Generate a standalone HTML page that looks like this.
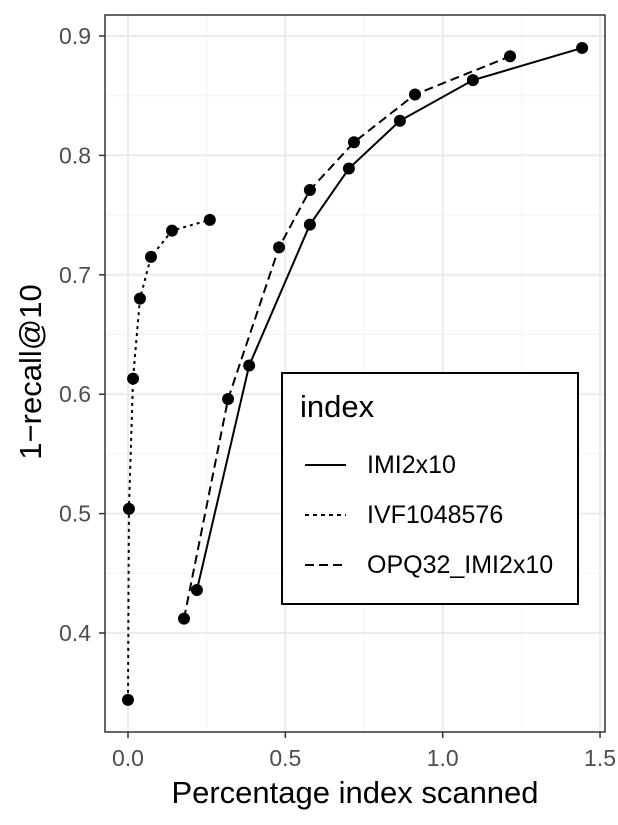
<!DOCTYPE html>
<html><head><meta charset="utf-8"><style>
html,body{margin:0;padding:0;background:#fff;}
svg{display:block;font-family:"Liberation Sans",sans-serif;}
</style></head><body>
<svg id="chart" width="618" height="825"></svg>
<script>
const imiX=[0.219,0.385,0.578,0.702,0.864,1.096,1.443];
const imiY=[0.436,0.624,0.742,0.789,0.829,0.863,0.890];
const ivfX=[0.0,0.003,0.016,0.038,0.073,0.14,0.26];
const ivfY=[0.344,0.504,0.613,0.68,0.715,0.737,0.746];
const opqX=[0.178,0.318,0.48,0.578,0.718,0.912,1.214];
const opqY=[0.412,0.596,0.723,0.771,0.811,0.851,0.883];
const xTicks=[0,0.5,1.0,1.5];
const xTickLabels=["0.0","0.5","1.0","1.5"];
const yTicks=[0.4,0.5,0.6,0.7,0.8,0.9];
const yTickLabels=["0.4","0.5","0.6","0.7","0.8","0.9"];

const NS="http://www.w3.org/2000/svg";
const svg=document.getElementById('chart');
const L=105,R=605,T=15,B=732;
const sx=v=>128+v*314.7;
const sy=v=>36+(0.9-v)*1194;
function mk(tag,attrs,parent){const e=document.createElementNS(NS,tag);for(const k in attrs)e.setAttribute(k,attrs[k]);(parent||svg).appendChild(e);return e;}

for(let i=0;i<xTicks.length-1;i++){const g=mk('line',{x1:sx((xTicks[i]+xTicks[i+1])/2),x2:sx((xTicks[i]+xTicks[i+1])/2),y1:T,y2:B,stroke:'#f2f2f2','stroke-width':1});

}
for(let i=0;i<yTicks.length-1;i++){const g=mk('line',{x1:L,x2:R,y1:sy((yTicks[i]+yTicks[i+1])/2),y2:sy((yTicks[i]+yTicks[i+1])/2),stroke:'#f2f2f2','stroke-width':1});

}
xTicks.forEach((v,i)=>{
 const g=mk('line',{x1:sx(v),x2:sx(v),y1:T,y2:B,stroke:'#ebebeb','stroke-width':2});
 
 
 mk('line',{x1:sx(v),x2:sx(v),y1:B,y2:B+6,stroke:'#333','stroke-width':1.5});
 const t=mk('text',{x:sx(v),y:B+34,'text-anchor':'middle','font-size':23,fill:'#4d4d4d'});t.textContent=xTickLabels[i];
 
 
});
yTicks.forEach((v,i)=>{
 const g=mk('line',{x1:L,x2:R,y1:sy(v),y2:sy(v),stroke:'#ebebeb','stroke-width':2});
 
 
 mk('line',{x1:L-6,x2:L,y1:sy(v),y2:sy(v),stroke:'#333','stroke-width':1.5});
 const t=mk('text',{x:L-14,y:sy(v)+8,'text-anchor':'end','font-size':23,fill:'#4d4d4d'});t.textContent=yTickLabels[i];
 
 
});
function series(xs,ys,dash,name){
 const p=mk('polyline',{points:xs.map((x,i)=>sx(x)+','+sy(ys[i])).join(' '),fill:'none',stroke:'#000','stroke-width':2,'stroke-dasharray':dash});
 
 
 xs.forEach((x,i)=>{const c=mk('circle',{cx:sx(x),cy:sy(ys[i]),r:6,fill:'#000'});
 
 });
}
series(imiX,imiY,'none','imi2x10');
series(ivfX,ivfY,'3,4','ivf1048576');
series(opqX,opqY,'9,5','opq32-imi2x10');
const border=mk('rect',{x:L,y:T,width:R-L,height:B-T,fill:'none',stroke:'#333','stroke-width':1.5});


const xt=mk('text',{x:355,y:803,'text-anchor':'middle','font-size':31,fill:'#000'});xt.textContent='Percentage index scanned';


const yt=mk('text',{x:0,y:0,'text-anchor':'middle','font-size':31,fill:'#000',transform:'translate(41,372) rotate(-90)'});yt.textContent='1\u2212recall@10';


const lg=mk('g',{});


mk('rect',{x:282,y:373,width:296,height:231,fill:'#fff',stroke:'#000','stroke-width':2},lg);
const lt=mk('text',{x:300,y:417,'font-size':31,fill:'#000'},lg);lt.textContent='index';


const names=['IMI2x10','IVF1048576','OPQ32_IMI2x10'];
const dashes=['none','4,4','9,5'];
names.forEach((n,i)=>{const y=465+i*50;
 const e=mk('g',{},lg);
 
 
 mk('line',{x1:305,x2:346,y1:y,y2:y,stroke:'#000','stroke-width':2,'stroke-dasharray':dashes[i]},e);
 const t=mk('text',{x:367,y:y+8,'font-size':25,fill:'#000'},e);t.textContent=n;});
</script>
</body></html>
